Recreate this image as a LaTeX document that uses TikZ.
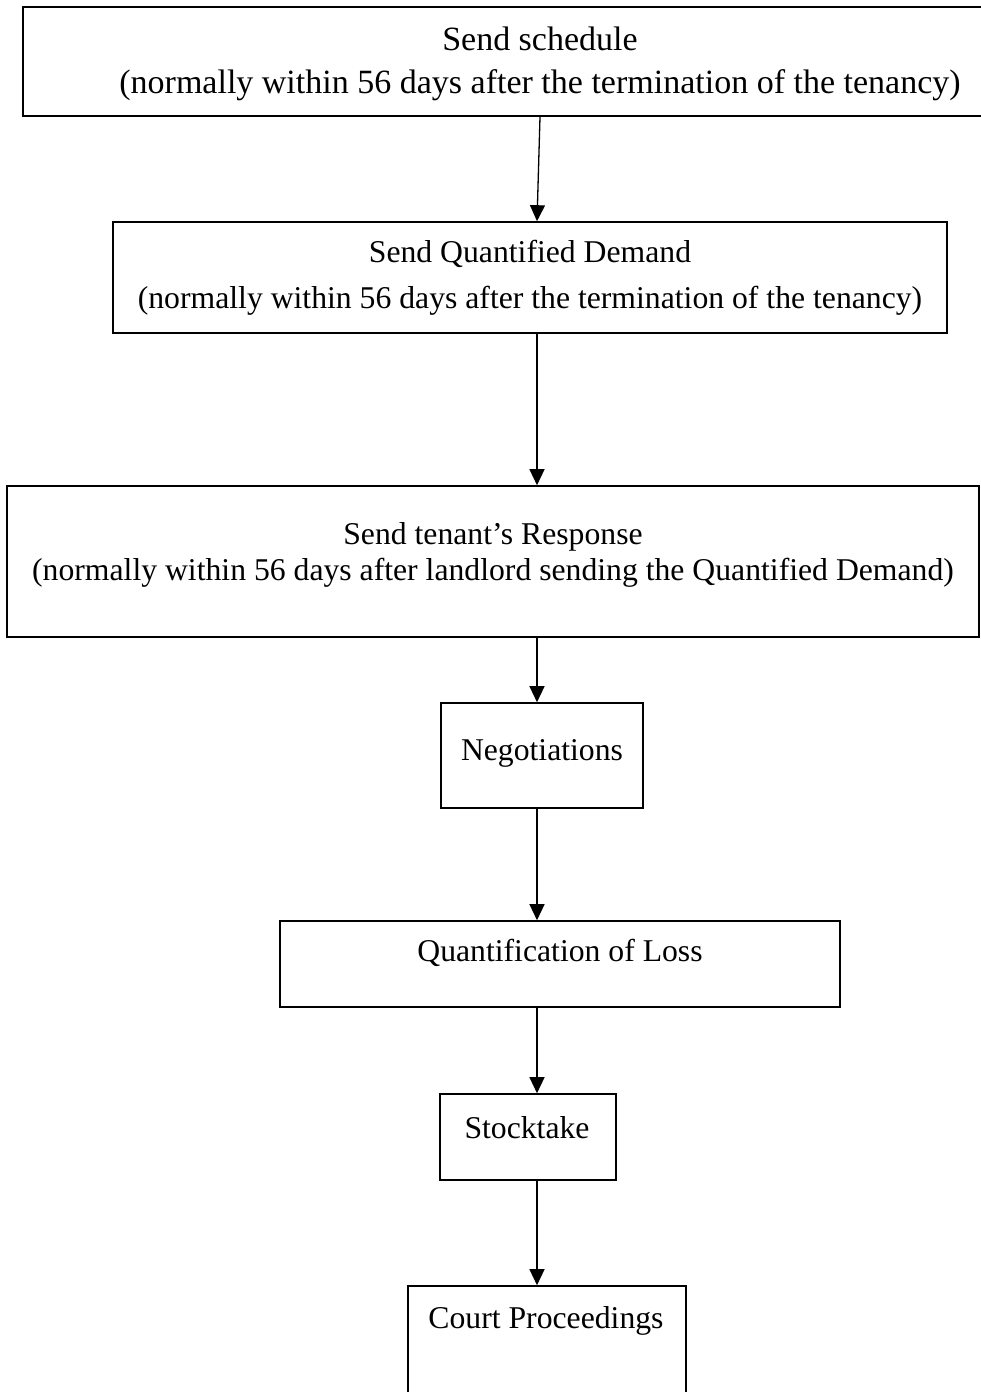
\documentclass[tikz,border=0pt]{standalone}
\usepackage{fontspec}
\setmainfont{Liberation Serif}
\usetikzlibrary{arrows.meta}
\tikzset{
  box/.style={draw=black, line width=1.6pt, rectangle, inner sep=0pt},
  lab/.style={font=\fontsize{31.7}{38}\selectfont, align=center, inner sep=0pt},
  labbig/.style={lab, font=\fontsize{34}{41}\selectfont},
  flow/.style={draw=black, line width=1.3pt, -{Triangle[length=16pt,width=15pt]}},
}
\begin{document}
\begin{tikzpicture}[x=1pt,y=-1pt]
  \clip (0,0) rectangle (981,1392);
  \fill[white] (0,0) rectangle (981,1392);
  \coordinate (spine) at (537,0);

  % boxes
  \node[box, minimum width=1034pt, minimum height=109pt] (sched) at (540,61.5) {};
  \node[box, minimum width=834pt, minimum height=111pt] (qd) at (530,277.5) {};
  \node[box, minimum width=972pt, minimum height=151pt] (resp) at (493,561.5) {};
  \node[box, minimum width=202pt, minimum height=105pt] (negot) at (542,755.5) {};
  \node[box, minimum width=560pt, minimum height=86pt] (quant) at (560,964) {};
  \node[box, minimum width=176pt, minimum height=86pt] (stock) at (528,1137) {};
  \node[box, minimum width=278pt, minimum height=134pt] (court) at (547,1353) {};

  % texts
  \node[labbig] (schedtxt) at (540,64) {Send schedule\\[2pt](normally within 56 days after the termination of the tenancy)};
  \node[lab] (qdtxt) at (530,278) {Send Quantified Demand\\[8pt](normally within 56 days after the termination of the tenancy)};
  \node[lab] (resptxt) at (493,555) {Send tenant’s Response\\[-2pt](normally within 56 days after landlord sending the Quantified Demand)};
  \node[lab] (negottxt) at (542,753) {Negotiations};
  \node[lab] (quanttxt) at (560,953) {Quantification of Loss};
  \node[lab] (stocktxt) at (527,1128) {Stocktake};
  \node[lab] (courttxt) at (546,1321) {Court Proceedings};

  % arrows
  \draw[flow] (sched.south) -- (qd.north -| spine);
  \foreach \a/\b in {qd/resp,resp/negot,negot/quant,quant/stock,stock/court}
    \draw[flow] (\a.south -| spine) -- (\b.north -| spine);
\end{tikzpicture}
\end{document}
